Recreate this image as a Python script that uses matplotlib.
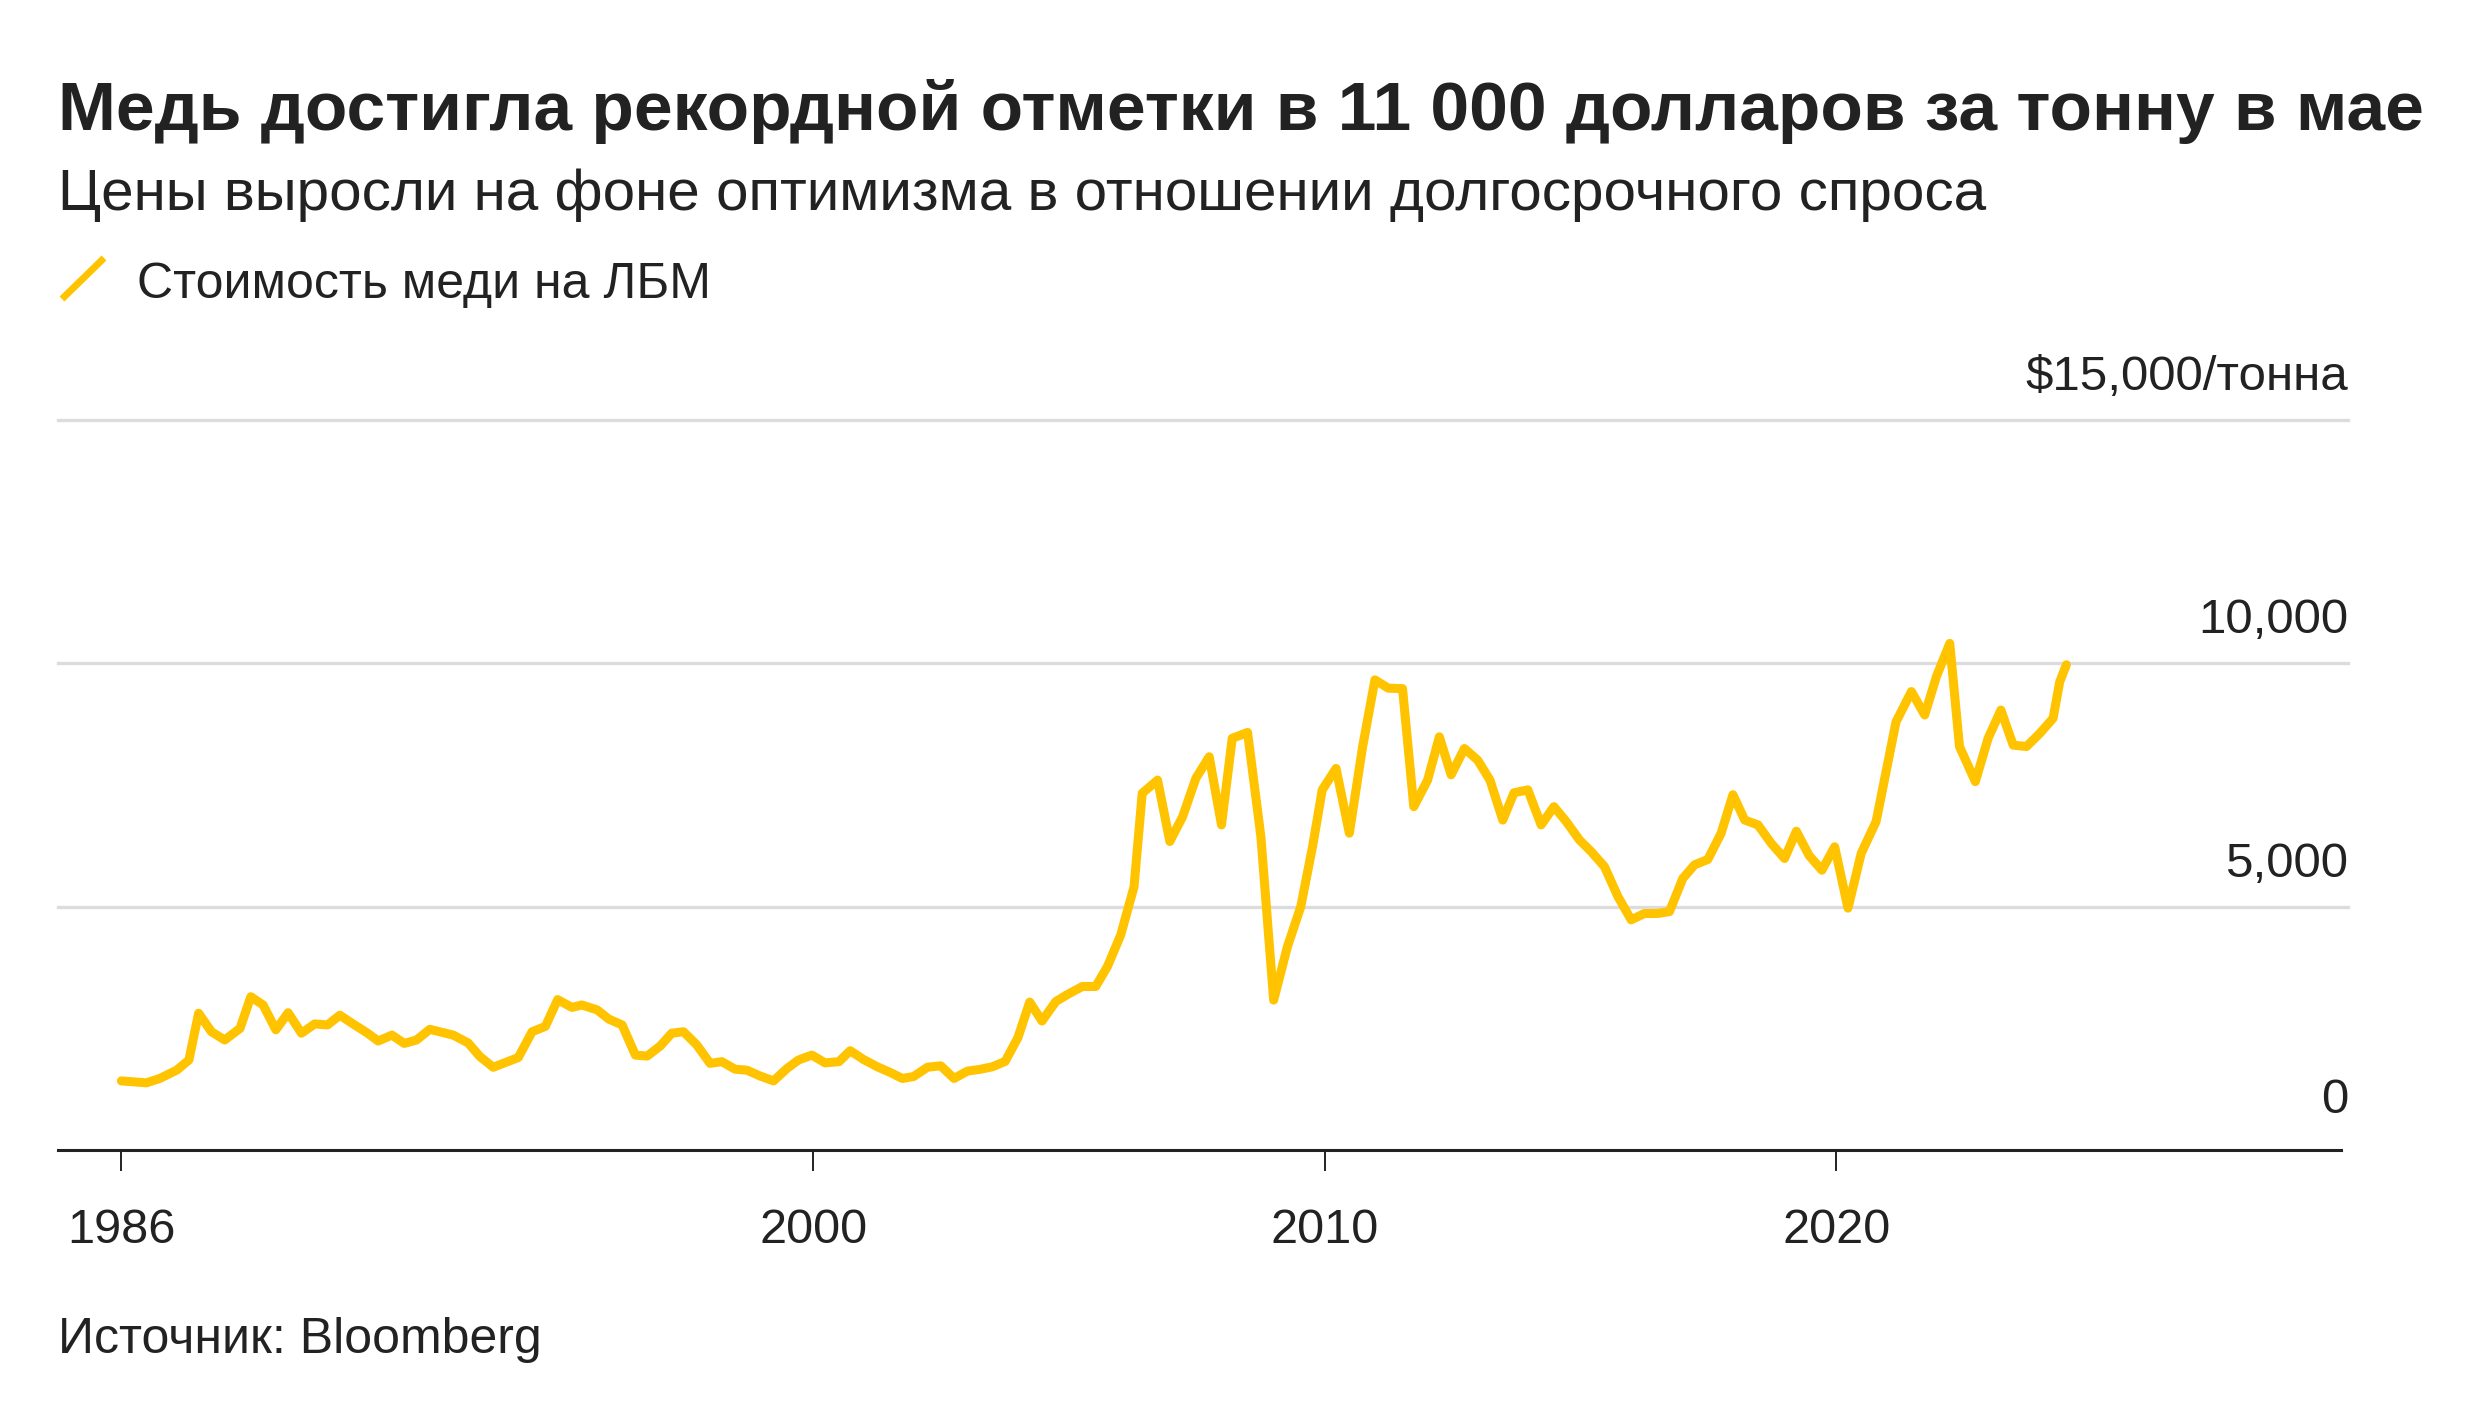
import matplotlib
matplotlib.use("Agg")
import matplotlib.pyplot as plt
from matplotlib.lines import Line2D
from matplotlib.transforms import blended_transform_factory

plt.rcParams['font.family'] = ['Liberation Sans', 'DejaVu Sans']

# Данные, LME медь, $/т
years = [1986.47, 1986.96, 1987.22, 1987.55, 1987.79, 1987.98, 1988.23, 1988.49, 1988.79,
         1989.00, 1989.24, 1989.49, 1989.73, 1989.99, 1990.25, 1990.50, 1990.74, 1991.00,
         1991.27, 1991.49, 1991.76, 1992.00, 1992.24, 1992.50, 1992.96, 1993.25, 1993.48,
         1993.74, 1994.23, 1994.50, 1994.76, 1995.00, 1995.28, 1995.47, 1995.77, 1996.00,
         1996.26, 1996.52, 1996.75, 1997.01, 1997.23, 1997.46, 1997.72, 1997.98, 1998.21,
         1998.47, 1998.70, 1998.96, 1999.22, 1999.49, 1999.71, 1999.97, 2000.23, 2000.50,
         2000.72, 2000.98, 2001.25, 2001.51, 2001.74, 2001.96, 2002.23, 2002.49, 2002.75,
         2003.01, 2003.27, 2003.50, 2003.75, 2004.00, 2004.23, 2004.47, 2004.74, 2004.96,
         2005.26, 2005.52, 2005.75, 2006.01, 2006.27, 2006.43, 2006.73, 2006.97, 2007.22,
         2007.48, 2007.74, 2007.98, 2008.19, 2008.49, 2008.75, 2009.00, 2009.27, 2009.53,
         2009.76, 2009.95, 2010.22, 2010.48, 2010.74, 2010.98, 2011.24, 2011.52, 2011.74,
         2012.01, 2012.24, 2012.47, 2012.73, 2012.99, 2013.23, 2013.48, 2013.70, 2013.97,
         2014.23, 2014.48, 2014.72, 2014.98, 2015.21, 2015.47, 2015.73, 2015.99, 2016.25,
         2016.51, 2016.74, 2017.00, 2017.23, 2017.49, 2017.75, 2017.98, 2018.21, 2018.47,
         2018.73, 2018.99, 2019.22, 2019.47, 2019.72, 2019.97, 2020.23, 2020.49, 2020.78,
         2021.17, 2021.47, 2021.73, 2021.96, 2022.22, 2022.41, 2022.72, 2022.97, 2023.22,
         2023.46, 2023.72, 2023.98, 2024.24, 2024.37, 2024.50]
price = [1420, 1380, 1470, 1640, 1850, 2810, 2430, 2260, 2500,
         3150, 2980, 2470, 2820, 2400, 2590, 2570, 2770, 2590,
         2410, 2240, 2360, 2190, 2260, 2480, 2360, 2200, 1920,
         1700, 1900, 2430, 2540, 3090, 2930, 2980, 2880, 2690,
         2570, 1950, 1930, 2140, 2400, 2430, 2160, 1780, 1815,
         1660, 1640, 1520, 1420, 1680, 1850, 1950, 1790, 1815,
         2040, 1860, 1710, 1590, 1470, 1510, 1700, 1730, 1470,
         1620, 1660, 1710, 1820, 2310, 3040, 2650, 3050, 3190,
         3360, 3360, 3770, 4420, 5410, 7330, 7600, 6340, 6850,
         7640, 8080, 6680, 8460, 8580, 6440, 3080, 4180, 5000,
         6230, 7400, 7840, 6510, 8290, 9660, 9490, 9480, 7055,
         7600, 8490, 7710, 8250, 8010, 7600, 6780, 7340, 7400,
         6680, 7055, 6750, 6370, 6130, 5820, 5210, 4730, 4860,
         4860, 4900, 5580, 5860, 5970, 6510, 7300, 6780, 6680,
         6300, 5990, 6550, 6050, 5750, 6230, 4970, 6100, 6750,
         8800, 9420, 8940, 9730, 10410, 8290, 7570, 8460, 9040,
         8320, 8290, 8560, 8870, 9620, 9970]

xtick_pos = [years[0], 2000, 2010, 2020]
xtick_labels = ['1986', '2000', '2010', '2020']
ytick_vals = [0, 5000, 10000, 15000]
ytick_labels = ['0', '5,000', '10,000', '$15,000/тонна']

title = 'Медь достигла рекордной отметки в 11 000 долларов за тонну в мае'
subtitle = 'Цены выросли на фоне оптимизма в отношении долгосрочного спроса'
legend_label = 'Стоимость меди на ЛБМ'
source = 'Источник: Bloomberg'

W, H = 2480, 1418
gold = '#FFC300'
dark = '#222222'

fig = plt.figure(figsize=(W / 100, H / 100), dpi=100)
ax = fig.add_axes([58 / W, 1 - 1150 / H, (2341 - 58) / W, (1150 - 420) / H])

# сетка чуть длиннее оси, как в оригинале
for v in ytick_vals[1:]:
    ax.plot([0, 1.003], [v, v], transform=blended_transform_factory(ax.transAxes, ax.transData),
            color='#DCDCDC', lw=2.4, zorder=1, clip_on=False)

ax.plot(years, price, color=gold, lw=6.5, solid_joinstyle='round',
        solid_capstyle='round', zorder=3, clip_on=False)

ax.set_xlim(1985.23, 2029.87)
ax.set_ylim(0, 15000)

for s in ['top', 'right', 'left']:
    ax.spines[s].set_visible(False)
ax.spines['bottom'].set_color(dark)
ax.spines['bottom'].set_linewidth(2.2)
ax.set_yticks([])
ax.set_xticks(xtick_pos)
ax.set_xticklabels(xtick_labels)
ax.tick_params(axis='x', length=15, width=1.4, color=dark, pad=27,
               labelsize=35, labelcolor=dark)

# подписи оси Y справа, над линиями сетки
tr = blended_transform_factory(ax.transAxes, ax.transData)
for v, lab in zip(ytick_vals, ytick_labels):
    off = 26.5 if v == 0 else 21.5
    ax.annotate(lab, xy=(1, v), xycoords=tr, xytext=(5, off), textcoords='offset points',
                ha='right', va='baseline', fontsize=35.5, color=dark)

fig.text(58 / W, 1 - 130 / H, title, fontsize=50, fontweight='bold', color=dark, va='baseline')
fig.text(58 / W, 1 - 210 / H, subtitle, fontsize=42, color=dark, va='baseline')
fig.add_artist(Line2D([62 / W, 104 / W], [1 - 299 / H, 1 - 258 / H], color=gold, lw=5,
                      solid_capstyle='butt', transform=fig.transFigure))
fig.text(137 / W, 1 - 298 / H, legend_label, fontsize=36, color=dark, va='baseline')
fig.text(58 / W, 1 - 1353 / H, source, fontsize=36, color=dark, va='baseline')

fig.savefig('out.png', dpi=100, facecolor='white')
